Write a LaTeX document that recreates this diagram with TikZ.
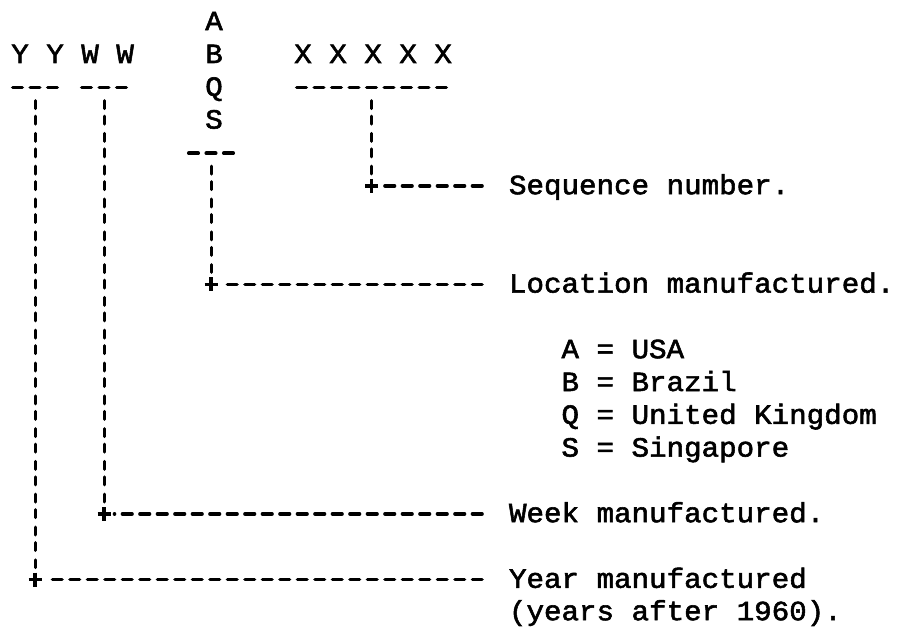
\documentclass[tikz,border=0pt]{standalone}
\usepackage{fontspec}
\newfontfamily\tw[FakeStretch=1.05,FakeBold=2]{Liberation Mono}
\begin{document}
\begin{tikzpicture}[x=1pt,y=-1pt,
  txt/.style={inner sep=0pt, outer sep=0pt, anchor=base west, font=\tw\fontsize{27.8}{32}\selectfont},
  plusmark/.style={inner sep=0pt, outer sep=0pt, minimum width=13pt, minimum height=14pt, anchor=center},
  plusline/.style={line width=3.2pt},
  hdash/.style={line width=3.6pt, line cap=round, dash pattern=on 9.5pt off 8pt},
  vdash/.style={line width=3pt, line cap=round, dash pattern=on 8pt off 7.5pt on 8pt off 9.3pt}]
\useasboundingbox (0,0) rectangle (897,631);
% code characters
\node[txt] (codeA) at (205.25,30.2) {A};
\node[txt] (yyww)  at (11.25,63) {Y Y W W};
\node[txt] (codeB) at (205.25,63) {B};
\node[txt] (xs)    at (294.25,63) {X X X X X};
\node[txt] (codeQ) at (205.25,95.8) {Q};
\node[txt] (codeS) at (205.25,128.6) {S};
% underline bars
\coordinate (yyL) at (12.75,87.6);  \coordinate (yyR) at (57.25,87.6);
\coordinate (wwL) at (81.75,87.6);  \coordinate (wwR) at (126.25,87.6);
\coordinate (xxL) at (296.75,87.6); \coordinate (xxR) at (446.25,87.6);
\coordinate (ssL) at (188.75,153.2); \coordinate (ssR) at (233.25,153.2);
\draw[hdash] (yyL) -- (yyR);
\draw[hdash] (wwL) -- (wwR);
\draw[hdash] (xxL) -- (xxR);
\draw[hdash] (ssL) -- (ssR);
\coordinate (yybar) at (35,87.6);
\coordinate (wwbar) at (104,87.6);
\coordinate (xxbar) at (371.5,87.6);
\coordinate (ssbar) at (211,153.2);
% labels
\node[txt] (seq)  at (509,194.2) {Sequence number.};
\node[txt] (loc)  at (509,292.6) {Location manufactured.};
\node[txt] (lgA)  at (561.5,358.2) {A = USA};
\node[txt] (lgB)  at (561.5,391) {B = Brazil};
\node[txt] (lgQ)  at (561.5,423.8) {Q = United Kingdom};
\node[txt] (lgS)  at (561.5,456.6) {S = Singapore};
\node[txt] (week) at (509,522.2) {Week manufactured.};
\node[txt] (year) at (509,587.8) {Year manufactured};
\node[txt] (year2) at (509,620.2) {(years after 1960).};
% corner marks
\node[plusmark] (p1) at (371.5,186) {};
\node[plusmark] (p2) at (211,284.4) {};
\node[plusmark] (p3) at (104,514) {};
\node[plusmark] (p4) at (35,579.6) {};
\foreach \p in {p1,p2,p3,p4}
  \draw[plusline] (\p.north) -- (\p.south) (\p.west) -- (\p.east);
% connectors
\draw[vdash] ([yshift=-13pt]xxbar) -- ([yshift=5pt]p1.north);
\draw[vdash] ([yshift=-13pt]ssbar) -- ([yshift=5pt]p2.north);
\draw[vdash] ([yshift=-13pt]wwbar) -- ([yshift=5pt]p3.north);
\draw[vdash] ([yshift=-13pt]yybar) -- ([yshift=5pt]p4.north);
\draw[hdash] ([xshift=-27pt]p1 -| seq.west) -- ([xshift=4pt]p1.east);
\draw[hdash] ([xshift=-27pt]p2 -| loc.west) -- ([xshift=4pt]p2.east);
\draw[hdash] ([xshift=-27pt]p3 -| week.west) -- ([xshift=4pt]p3.east);
\draw[hdash] ([xshift=-27pt]p4 -| year.west) -- ([xshift=4pt]p4.east);
\end{tikzpicture}
\end{document}
